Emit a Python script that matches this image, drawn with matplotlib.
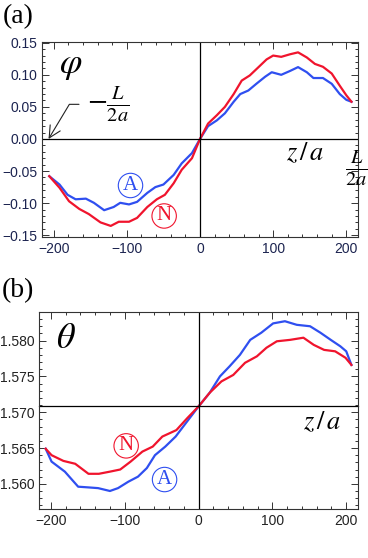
import numpy as np
import matplotlib
matplotlib.use("Agg")
import matplotlib.pyplot as plt
from matplotlib.ticker import MultipleLocator, FuncFormatter

plt.rcParams['mathtext.fontset'] = 'stix'
plt.rcParams['font.family'] = ['Liberation Sans', 'DejaVu Sans']

# panel (a): phi vs z/a
z_phi_A = [-206, -192, -181, -170, -156, -145, -131, -118, -109, -97, -86, -72, -61, -50, -36, -25, -11, 0,
           11, 23, 34, 46, 55, 66, 77, 89, 98, 111, 123, 134, 146, 155, 168, 180, 191, 200, 207]
phi_A = [-0.058, -0.071, -0.087, -0.094, -0.093, -0.0995, -0.111, -0.106, -0.0995, -0.102, -0.098, -0.084,
         -0.075, -0.071, -0.056, -0.038, -0.022, 0.0,
         0.020, 0.029, 0.040, 0.058, 0.070, 0.0755, 0.086, 0.097, 0.104, 0.100, 0.106, 0.112, 0.104, 0.095,
         0.095, 0.086, 0.070, 0.061, 0.058]
z_phi_N = [-206, -192, -179, -165, -152, -136, -122, -111, -97, -86, -72, -59, -48, -36, -25, -11, 0,
           11, 23, 34, 46, 57, 68, 80, 91, 100, 111, 123, 134, 146, 157, 168, 180, 191, 200, 207]
phi_N = [-0.058, -0.076, -0.097, -0.109, -0.117, -0.130, -0.1355, -0.129, -0.129, -0.123, -0.106, -0.094,
         -0.087, -0.069, -0.048, -0.030, 0.0,
         0.024, 0.037, 0.050, 0.070, 0.091, 0.099, 0.112, 0.124, 0.130, 0.128, 0.132, 0.135, 0.127, 0.117,
         0.1125, 0.102, 0.083, 0.068, 0.058]

# panel (b): theta vs z/a
z_th_A = [-207, -199, -181, -163, -149, -136, -120, -109, -95, -82, -70, -59, -45, -31, -17, 0,
          15, 29, 42, 56, 70, 85, 101, 117, 133, 151, 165, 179, 192, 200, 207]
th_A = [1.5649, 1.5631, 1.5617, 1.5596, 1.5595, 1.5594, 1.5590, 1.5594, 1.5603, 1.5610, 1.5622, 1.5640,
        1.5652, 1.5666, 1.5685, 1.5708,
        1.5727, 1.5750, 1.5764, 1.5780, 1.5801, 1.5811, 1.5824, 1.5827, 1.5822, 1.5820, 1.5811, 1.5801,
        1.5792, 1.5785, 1.5766]
z_th_N = [-207, -199, -183, -167, -149, -135, -120, -106, -92, -76, -62, -49, -30, -15, 0,
          15, 31, 47, 63, 79, 92, 106, 124, 142, 156, 170, 185, 199, 207]
th_N = [1.5649, 1.5640, 1.5632, 1.5628, 1.5614, 1.5614, 1.5617, 1.5620, 1.5631, 1.5645, 1.5652, 1.5666,
        1.5675, 1.5692, 1.5708,
        1.5727, 1.5743, 1.5752, 1.5769, 1.5778, 1.5790, 1.5799, 1.5801, 1.5804, 1.5794, 1.5787, 1.5785,
        1.5776, 1.5766]

blue = '#2f4ff0'
red = '#f0142d'

fig = plt.figure(figsize=(3.68, 5.58), dpi=100)
ax1 = fig.add_axes([0.114, 0.575, 0.859, 0.349])
ax2 = fig.add_axes([0.106, 0.088, 0.867, 0.353])


def style(ax, ymaj, ymin, fmt, tcol):
    ax.set_xlim(-216, 216)
    ax.xaxis.set_major_locator(MultipleLocator(100))
    ax.xaxis.set_minor_locator(MultipleLocator(20))
    ax.yaxis.set_major_locator(MultipleLocator(ymaj))
    ax.yaxis.set_minor_locator(MultipleLocator(ymin))
    ax.yaxis.set_major_formatter(FuncFormatter(lambda v, p: (fmt % v).replace('-', '\u2212')))
    ax.tick_params(which='both', direction='in', top=True, right=True, labelsize=10,
                   labelcolor=tcol, color='#333333', width=0.7)
    ax.tick_params(which='major', length=5)
    ax.tick_params(which='minor', length=2.5)
    for s in ax.spines.values():
        s.set_linewidth(0.8)
        s.set_color('#333333')


def circled(ax, x, y, s, col):
    ax.text(x, y, s, fontsize=15, family='Liberation Serif', color=col, ha='center', va='center',
            bbox=dict(boxstyle='circle,pad=0.13', fc='none', ec=col, lw=0.8))


# (a)
ax1.plot(z_phi_A, phi_A, color=blue, lw=1.6, solid_joinstyle='round')
ax1.plot(z_phi_N, phi_N, color=red, lw=1.6, solid_joinstyle='round')
ax1.axhline(0, color='black', lw=0.9)
ax1.axvline(0, color='black', lw=0.9)
ax1.set_ylim(-0.153, 0.1505)
style(ax1, 0.05, 0.01, '%.2f', '#1c2450')

ax1.text(-177, 0.116, r'$\varphi$', fontsize=26, ha='center', va='center')
ax1.annotate(r'$-\frac{L}{2a}$', xy=(-207, 0), xytext=(-154, 0.054), fontsize=21,
             ha='left', va='center',
             arrowprops=dict(arrowstyle='->', color='#222222', lw=0.8, relpos=(0, 0.5),
                             shrinkA=4, shrinkB=0,
                             connectionstyle='angle,angleA=0,angleB=59,rad=0'))
ax1.text(144, -0.0216, r'$z\,/\,a$', fontsize=19, ha='center', va='center')
ax1.text(213, -0.0447, r'$\frac{L}{2a}$', fontsize=21, ha='center', va='center', clip_on=False)
circled(ax1, -95, -0.0725, 'A', blue)
circled(ax1, -49, -0.120, 'N', red)

# (b)
ax2.plot(z_th_A, th_A, color=blue, lw=1.6, solid_joinstyle='round')
ax2.plot(z_th_N, th_N, color=red, lw=1.6, solid_joinstyle='round')
ax2.axhline(np.pi / 2, color='black', lw=0.9, clip_on=False)
ax2.axvline(0, color='black', lw=0.9)
ax2.set_ylim(1.5565, 1.584)
style(ax2, 0.005, 0.001, '%.3f', '#222222')

ax2.text(-179, 1.5803, r'$\theta$', fontsize=26, ha='center', va='center')
ax2.text(168, 1.5687, r'$z\,/\,a$', fontsize=19, ha='center', va='center')
circled(ax2, -98, 1.5653, 'N', red)
circled(ax2, -46, 1.5606, 'A', blue)

fig.text(0.049, 0.970, '(a)', fontsize=20, family='Liberation Serif', ha='center', va='center')
fig.text(0.049, 0.480, '(b)', fontsize=20, family='Liberation Serif', ha='center', va='center')

fig.savefig('out.png', dpi=100)
